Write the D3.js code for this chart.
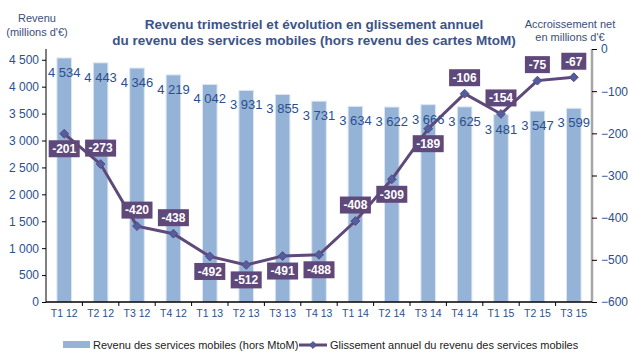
<!DOCTYPE html>
<html lang="fr">
<head>
    <meta charset="UTF-8">
    <title>Revenu trimestriel</title>
    <script src="https://cdn.jsdelivr.net/npm/d3@7/dist/d3.min.js"></script>
    <style>
        html, body {
            margin: 0;
            padding: 0;
            background: #fff;
        }
        svg text {
            font-family: "Liberation Sans", Arial, sans-serif;
        }
    </style>
</head>
<body>
<div id="chart"></div>
<script>
    // données
    var quarters = ["T1 12", "T2 12", "T3 12", "T4 12", "T1 13", "T2 13", "T3 13", "T4 13",
        "T1 14", "T2 14", "T3 14", "T4 14", "T1 15", "T2 15", "T3 15"];
    var revenu = [4534, 4443, 4346, 4219, 4042, 3931, 3855, 3731, 3634, 3622, 3666, 3625, 3481, 3547, 3599];
    var glissement = [-201, -273, -420, -438, -492, -512, -491, -488, -408, -309, -189, -106, -154, -75, -67];
    var leftTicks = [0, 500, 1000, 1500, 2000, 2500, 3000, 3500, 4000, 4500];
    var rightTicks = [0, -100, -200, -300, -400, -500, -600];

    // placement des étiquettes de la courbe (1 = dessus, -1 = dessous)
    var labelSide = [-1, 1, 1, 1, -1, -1, -1, -1, 1, -1, -1, 1, 1, 1, 1];

    var W = 628, H = 361;
    var m = {left: 46, right: 36, top: 49, bottom: 59};

    var svg = d3.select("#chart").append("svg")
        .attr("width", W)
        .attr("height", H);

    var x = d3.scaleBand()
        .domain(quarters)
        .range([m.left, W - m.right])
        .paddingInner(0.6)
        .paddingOuter(0.3);

    var yL = d3.scaleLinear().domain([0, 4700]).range([H - m.bottom, m.top]);
    var yR = d3.scaleLinear().domain([-600, 0]).range([H - m.bottom, m.top]);

    var fmt = function (v) {
        return d3.format(",")(v).replace(/,/g, " ");
    };

    var blueTxt = "#2b4f8e";

    // barres
    svg.append("g").selectAll("rect")
        .data(revenu)
        .enter()
        .append("rect")
        .attr("x", function (d, i) { return x(quarters[i]); })
        .attr("y", function (d) { return yL(d); })
        .attr("width", x.bandwidth())
        .attr("height", function (d) { return yL(0) - yL(d); })
        .attr("fill", "#95b3d7")
        .attr("stroke", "#dce6f2")
        .attr("stroke-width", 1);

    // axe gauche
    var axL = svg.append("g")
        .attr("transform", "translate(" + m.left + ",0)")
        .call(d3.axisLeft(yL).tickValues(leftTicks).tickSize(4).tickFormat(fmt));
    axL.select(".domain").attr("stroke", "#000").attr("d", "M0," + yL(0) + "V" + m.top);
    axL.selectAll("line").attr("stroke", "#000");
    axL.selectAll("text").attr("fill", blueTxt).attr("font-size", 12).attr("x", -7);

    // axe droit
    var axR = svg.append("g")
        .attr("transform", "translate(" + (W - m.right) + ",0)")
        .call(d3.axisRight(yR).tickValues(rightTicks).tickSize(5));
    axR.select(".domain").attr("stroke", "#a6a6a6").attr("stroke-width", 2.5)
        .attr("d", "M0," + yR(-600) + "V" + yR(0));
    axR.selectAll("line").attr("stroke", "#000");
    axR.selectAll("text").attr("fill", blueTxt).attr("font-size", 12).attr("x", 9);

    // axe des x
    var xAxisG = svg.append("g")
        .attr("transform", "translate(0," + yL(0) + ")");
    xAxisG.append("line")
        .attr("x1", m.left).attr("x2", W - m.right)
        .attr("stroke", "#000").attr("stroke-width", 1.5);
    var step = x.step();
    xAxisG.selectAll(".sep")
        .data(quarters.slice(1))
        .enter()
        .append("line")
        .attr("x1", function (d) { return x(d) + x.bandwidth() / 2 - step / 2; })
        .attr("x2", function (d) { return x(d) + x.bandwidth() / 2 - step / 2; })
        .attr("y1", 0).attr("y2", 4)
        .attr("stroke", "#000");
    xAxisG.selectAll(".xl")
        .data(quarters)
        .enter()
        .append("text")
        .attr("x", function (d) { return x(d) + x.bandwidth() / 2; })
        .attr("y", 15)
        .attr("text-anchor", "middle")
        .attr("font-size", 10.5)
        .attr("fill", blueTxt)
        .text(function (d) { return d; });

    // étiquettes des barres
    svg.append("g").selectAll("text")
        .data(revenu)
        .enter()
        .append("text")
        .attr("x", function (d, i) { return x(quarters[i]) + x.bandwidth() / 2; })
        .attr("y", function (d) { return yL(d) + 19; })
        .attr("text-anchor", "middle")
        .attr("font-size", 13)
        .attr("fill", blueTxt)
        .text(fmt);

    // courbe
    var cx = function (d, i) { return x(quarters[i]) + x.bandwidth() / 2; };
    var line = d3.line()
        .x(cx)
        .y(function (d) { return yR(d); });

    svg.append("path")
        .datum(glissement)
        .attr("d", line)
        .attr("fill", "none")
        .attr("stroke", "#5f497a")
        .attr("stroke-width", 3);

    svg.append("g").selectAll("path")
        .data(glissement)
        .enter()
        .append("path")
        .attr("d", d3.symbol(d3.symbolDiamond2, 50))
        .attr("transform", function (d, i) { return "translate(" + cx(d, i) + "," + yR(d) + ")"; })
        .attr("fill", "#4f5f9f")
        .attr("stroke", "#5f497a")
        .attr("stroke-width", 1);

    // étiquettes de la courbe
    var lab = svg.append("g").selectAll("g")
        .data(glissement)
        .enter()
        .append("g")
        .attr("transform", function (d, i) {
            var off = labelSide[i] > 0 ? -16 : 15;
            return "translate(" + cx(d, i) + "," + (yR(d) + off) + ")";
        });
    lab.append("rect")
        .attr("x", function (d) { return String(d).length > 3 ? -15.5 : -12.5; })
        .attr("y", -8.5)
        .attr("width", function (d) { return String(d).length > 3 ? 31 : 25; })
        .attr("height", 17)
        .attr("fill", "#5f497a");
    lab.append("text")
        .attr("text-anchor", "middle")
        .attr("dy", "0.36em")
        .attr("font-size", 12)
        .attr("font-weight", "bold")
        .attr("fill", "#fff")
        .text(function (d) { return d; });

    // titres
    var titleCol = "#3b5487";
    svg.append("text").attr("x", 314).attr("y", 29)
        .attr("text-anchor", "middle").attr("font-size", 13.5).attr("font-weight", "bold")
        .attr("fill", titleCol).text("Revenu trimestriel et évolution en glissement annuel");
    svg.append("text").attr("x", 314).attr("y", 45)
        .attr("text-anchor", "middle").attr("font-size", 13.5).attr("font-weight", "bold")
        .attr("fill", titleCol).text("du revenu des services mobiles (hors revenu des cartes MtoM)");

    var unitCol = "#3a4e7a";
    svg.append("text").attr("x", 37).attr("y", 22)
        .attr("text-anchor", "middle").attr("font-size", 11).attr("fill", unitCol).text("Revenu");
    svg.append("text").attr("x", 37).attr("y", 36)
        .attr("text-anchor", "middle").attr("font-size", 11).attr("fill", unitCol).text("(millions d'€)");
    svg.append("text").attr("x", 570).attr("y", 28)
        .attr("text-anchor", "middle").attr("font-size", 11).attr("fill", unitCol).text("Accroissement net");
    svg.append("text").attr("x", 570).attr("y", 41)
        .attr("text-anchor", "middle").attr("font-size", 11).attr("fill", unitCol).text("en millions d'€");

    // légende
    var leg = svg.append("g").attr("transform", "translate(0,345)");
    leg.append("rect").attr("x", 63).attr("y", -4).attr("width", 27).attr("height", 7).attr("fill", "#95b3d7");
    leg.append("text").attr("x", 93).attr("y", 4).attr("font-size", 11).attr("fill", "#222")
        .text("Revenu des services mobiles (hors MtoM)");
    leg.append("line").attr("x1", 299).attr("x2", 327).attr("y1", 0).attr("y2", 0)
        .attr("stroke", "#5f497a").attr("stroke-width", 3);
    leg.append("path").attr("d", d3.symbol(d3.symbolDiamond2, 30))
        .attr("transform", "translate(313,0)").attr("fill", "#4f5f9f").attr("stroke", "#5f497a");
    leg.append("text").attr("x", 330).attr("y", 4).attr("font-size", 11).attr("fill", "#222")
        .text("Glissement annuel du revenu des services mobiles");
</script>
</body>
</html>
